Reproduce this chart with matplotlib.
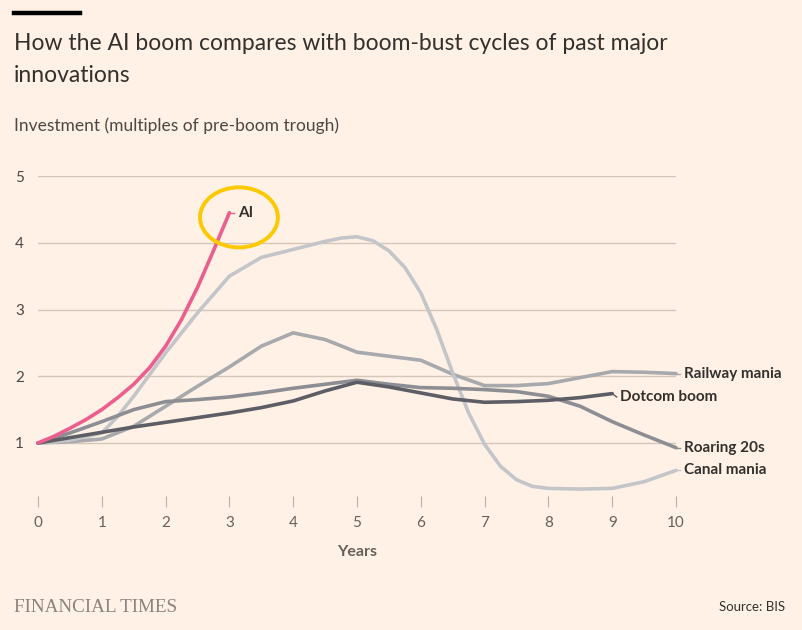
import numpy as np
import matplotlib.pyplot as plt
from matplotlib.patches import Ellipse

# values (years since pre-boom trough, multiple of trough)
ai_x = [0, 0.25, 0.5, 0.75, 1, 1.25, 1.5, 1.75, 2, 2.25, 2.5, 2.75, 3]
ai_y = [1, 1.1, 1.22, 1.35, 1.5, 1.68, 1.88, 2.13, 2.45, 2.85, 3.33, 3.88, 4.45]

canal_x = [0, 0.5, 1, 1.25, 1.5, 2, 2.5, 3, 3.5, 4, 4.5, 4.75, 5, 5.25, 5.5, 5.75, 6,
           6.25, 6.5, 6.75, 7, 7.25, 7.5, 7.75, 8, 8.5, 9, 9.5, 10]
canal_y = [1, 1.04, 1.15, 1.4, 1.7, 2.35, 2.95, 3.5, 3.78, 3.9, 4.02, 4.07, 4.09, 4.03, 3.88,
           3.63, 3.25, 2.7, 2.05, 1.45, 0.98, 0.65, 0.45, 0.35, 0.32, 0.31, 0.32, 0.42, 0.59]

rail_x = [0, 0.5, 1, 1.5, 2, 2.5, 3, 3.5, 4, 4.5, 5, 5.5, 6, 6.5, 7, 7.5, 8, 8.5, 9, 9.5, 10]
rail_y = [1, 1.02, 1.06, 1.25, 1.55, 1.85, 2.14, 2.45, 2.65, 2.55, 2.36, 2.3, 2.24,
          2.03, 1.86, 1.86, 1.89, 1.98, 2.07, 2.06, 2.04]

roar_x = [0, 0.5, 1, 1.5, 2, 2.5, 3, 3.5, 4, 4.5, 5, 5.5, 6, 6.5, 7, 7.5, 8, 8.5, 9, 9.5, 10]
roar_y = [1, 1.15, 1.32, 1.5, 1.62, 1.65, 1.69, 1.75, 1.82, 1.88, 1.94, 1.88, 1.83,
          1.82, 1.8, 1.77, 1.7, 1.55, 1.32, 1.12, 0.93]

dot_x = [0, 0.5, 1, 1.5, 2, 2.5, 3, 3.5, 4, 4.5, 5, 5.5, 6, 6.5, 7, 7.5, 8, 8.5, 9]
dot_y = [1, 1.08, 1.16, 1.24, 1.31, 1.38, 1.45, 1.53, 1.63, 1.78, 1.91, 1.84, 1.75,
         1.66, 1.61, 1.62, 1.64, 1.68, 1.74]

bg = "#fff1e5"
txt = "#33302e"

plt.rcParams['font.family'] = ['Lato', 'DejaVu Sans']

fig = plt.figure(figsize=(8.02, 6.30), dpi=100, facecolor=bg)
ax = fig.add_axes([38 / 802, 1 - 496.4 / 630, 638 / 802, (496.4 - 176) / 630])
ax.set_facecolor(bg)

series = [
    (rail_x, rail_y, "#a7a9ad", "Railway mania", 0),
    (canal_x, canal_y, "#c3c5c9", "Canal mania", 0),
    (roar_x, roar_y, "#8d8e93", "Roaring 20s", 0),
    (dot_x, dot_y, "#5d5e65", "Dotcom boom", -0.05),
    (ai_x, ai_y, "#eb5e8d", "AI", 0),
]
for xs, ys, col, name, dy in series:
    ax.plot(xs, ys, color=col, lw=2.6, solid_capstyle="round", solid_joinstyle="round",
            clip_on=False, zorder=3)
    # short leader then the label
    x_end, y_end = xs[-1], ys[-1]
    ax.plot([x_end, x_end + 0.07], [y_end, y_end + dy], color=col, lw=1, clip_on=False, zorder=3)
    ax.text(x_end + 0.13, y_end + dy, name, color=txt, fontsize=11, fontweight="bold",
            va="center", ha="left", clip_on=False)

ax.add_patch(Ellipse((3.15, 4.38), 1.22, 0.9, fill=False, edgecolor="#fcc800",
                     lw=2.8, clip_on=False, zorder=4))

ax.set_xlim(0, 10)
ax.set_ylim(0.2, 5.0)
ax.set_xticks(range(0, 11))
ax.set_yticks([1, 2, 3, 4, 5])
ax.grid(axis="y", color="#d4c6b8", lw=1)
ax.set_axisbelow(True)
for s in ax.spines.values():
    s.set_visible(False)
ax.tick_params(axis="x", length=8, color="#b8b0a8", labelcolor="#66605c", labelsize=11, pad=6)
ax.tick_params(axis="y", length=0, labelcolor="#4d4845", labelsize=11, pad=10)
ax.set_xlabel("Years", fontsize=11.5, fontweight="bold", color="#66605c", labelpad=11)

fig.add_artist(plt.Line2D([14 / 802, 80 / 802], [1 - 13 / 630, 1 - 13 / 630],
                          color="black", lw=3.2))
fig.text(14 / 802, 1 - 44 / 630, "How the AI boom compares with boom-bust cycles of past major",
         fontsize=16.5, color=txt, va="center", ha="left")
fig.text(14 / 802, 1 - 75 / 630, "innovations",
         fontsize=16.5, color=txt, va="center", ha="left")
fig.text(14 / 802, 1 - 126 / 630, "Investment (multiples of pre-boom trough)",
         fontsize=12.5, color="#4d4845", va="center", ha="left")
fig.text(14 / 802, 1 - 607 / 630, "FINANCIAL TIMES", family="Liberation Serif",
         fontsize=13.8, color="#8a847f", va="center", ha="left")
fig.text(785 / 802, 1 - 607 / 630, "Source: BIS", fontsize=9.5, color=txt,
         va="center", ha="right")

fig.savefig("out.png", dpi=100, facecolor=bg)
